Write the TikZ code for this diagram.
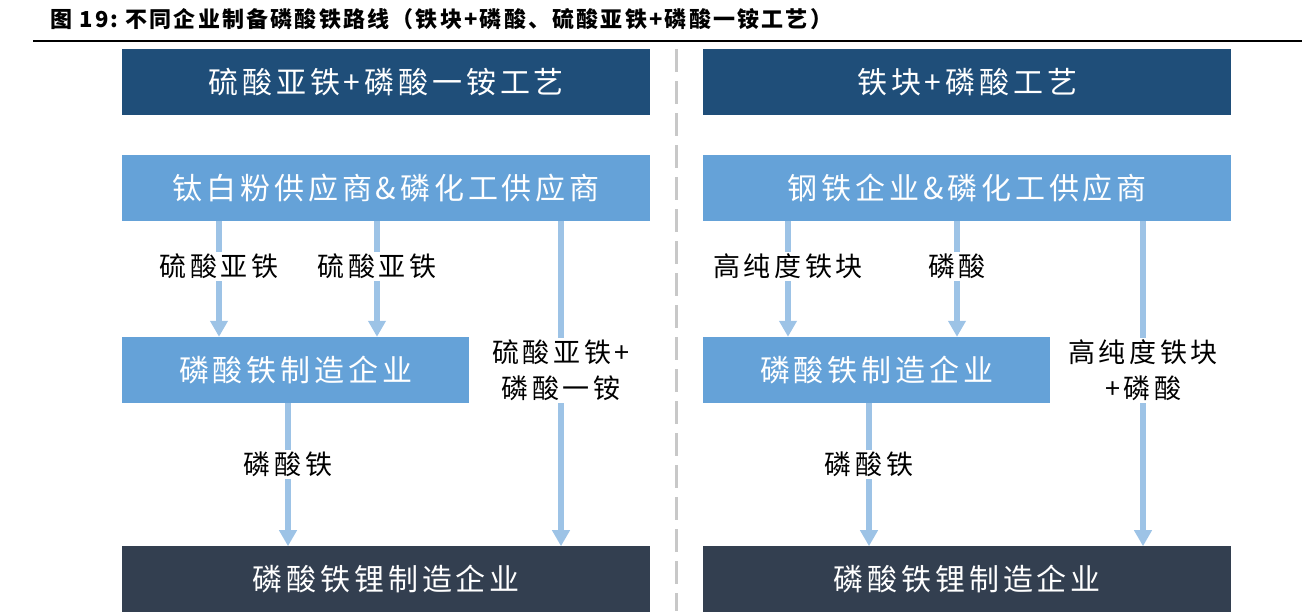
\documentclass[tikz,border=0pt]{standalone}
\usepackage{fontspec}
\usepackage{tikz}
\usetikzlibrary{positioning, arrows.meta}
\newfontfamily\boxfont{Noto Sans CJK SC}[LetterSpace=13]
\newfontfamily\lblfont{Noto Sans CJK SC}[LetterSpace=13]
\newfontfamily\titlefont{Noto Sans CJK SC}[LetterSpace=10]
\definecolor{hdrblue}{HTML}{1F4E79}
\definecolor{boxblue}{HTML}{65A2D8}
\definecolor{arrblue}{HTML}{9DC3E6}
\definecolor{darkslate}{HTML}{333F50}
\definecolor{sepgray}{HTML}{C8C8C8}

\begin{document}
\begin{tikzpicture}[x=1pt, y=-1pt,
                  box/.style={inner sep=0pt, minimum height=66pt, text=white,
                              font=\boxfont\fontsize{30}{34}\selectfont},
                  wide/.style={box, minimum width=528pt},
                  half/.style={box, minimum width=347pt},
                  header/.style={wide, fill=hdrblue},
                  supplier/.style={wide, fill=boxblue},
                  maker/.style={half, fill=boxblue},
                  client/.style={wide, fill=darkslate},
                  flow/.style={-{Triangle[width=17pt, length=16pt]}, line width=6pt, arrblue},
                  lbl/.style={fill=white, inner xsep=1pt, inner ysep=2pt, text=black, align=center,
                              font=\lblfont\fontsize{27}{36}\selectfont},
                  node distance=39pt,
            ]
            \useasboundingbox (0,0) rectangle (1302,611);

            % Title and rule
            \node[anchor=west, inner sep=0pt, font=\titlefont\bfseries\fontsize{22}{24}\selectfont] (title) at (50,19)
            {图 19:\ 不同企业制备磷酸铁路线（铁块+磷酸、硫酸亚铁+磷酸一铵工艺）};
            \coordinate (ruleL) at (33,41);
            \coordinate (ruleR) at (1302,41);
            \draw[line width=2pt] (ruleL) -- (ruleR);

            % Separator
            \coordinate (sepT) at (676,49);
            \coordinate (sepB) at (676,611);
            \draw[sepgray, line width=3pt, dash pattern=on 23pt off 9pt] (sepT) -- (sepB);

            % Left column: ferrous sulfate + MAP route
            \node[header, anchor=north west] (lhead) at (122,49) {硫酸亚铁+磷酸一铵工艺};
            \node[supplier, below=of lhead] (lsup) {钛白粉供应商\&磷化工供应商};
            \node[maker, below=116pt of lsup.south west, anchor=north west] (lmfr) {磷酸铁制造企业};
            \node[client, below=143pt of lmfr.south west, anchor=north west] (lcli) {磷酸铁锂制造企业};

            % Right column: iron block + phosphoric acid route
            \node[header, anchor=north west] (rhead) at (703,49) {铁块+磷酸工艺};
            \node[supplier, below=of rhead] (rsup) {钢铁企业\&磷化工供应商};
            \node[maker, below=116pt of rsup.south west, anchor=north west] (rmfr) {磷酸铁制造企业};
            \node[client, below=143pt of rmfr.south west, anchor=north west] (rcli) {磷酸铁锂制造企业};

            % Arrow columns
            \coordinate (lc1) at (219,0);
            \coordinate (lc2) at (377,0);
            \coordinate (lc3) at (561,0);
            \coordinate (lc4) at (288,0);
            \coordinate (rc1) at (788,0);
            \coordinate (rc2) at (957,0);
            \coordinate (rc3) at (1143,0);
            \coordinate (rc4) at (869,0);

            % Arrows, left
            \draw[flow] (lsup.south -| lc1) -- node[lbl, pos=0.39] {硫酸亚铁} (lmfr.north -| lc1);
            \draw[flow] (lsup.south -| lc2) -- node[lbl, pos=0.39] {硫酸亚铁} (lmfr.north -| lc2);
            \draw[flow] (lsup.south -| lc3) -- node[lbl, pos=0.46] {硫酸亚铁+\\磷酸一铵} (lcli.north -| lc3);
            \draw[flow] (lmfr.south -| lc4) -- node[lbl, pos=0.43] {磷酸铁} (lcli.north -| lc4);

            % Arrows, right
            \draw[flow] (rsup.south -| rc1) -- node[lbl, pos=0.39] {高纯度铁块} (rmfr.north -| rc1);
            \draw[flow] (rsup.south -| rc2) -- node[lbl, pos=0.39] {磷酸} (rmfr.north -| rc2);
            \draw[flow] (rsup.south -| rc3) -- node[lbl, pos=0.46] {高纯度铁块\\+磷酸} (rcli.north -| rc3);
            \draw[flow] (rmfr.south -| rc4) -- node[lbl, pos=0.43] {磷酸铁} (rcli.north -| rc4);

      \end{tikzpicture}
\end{document}
